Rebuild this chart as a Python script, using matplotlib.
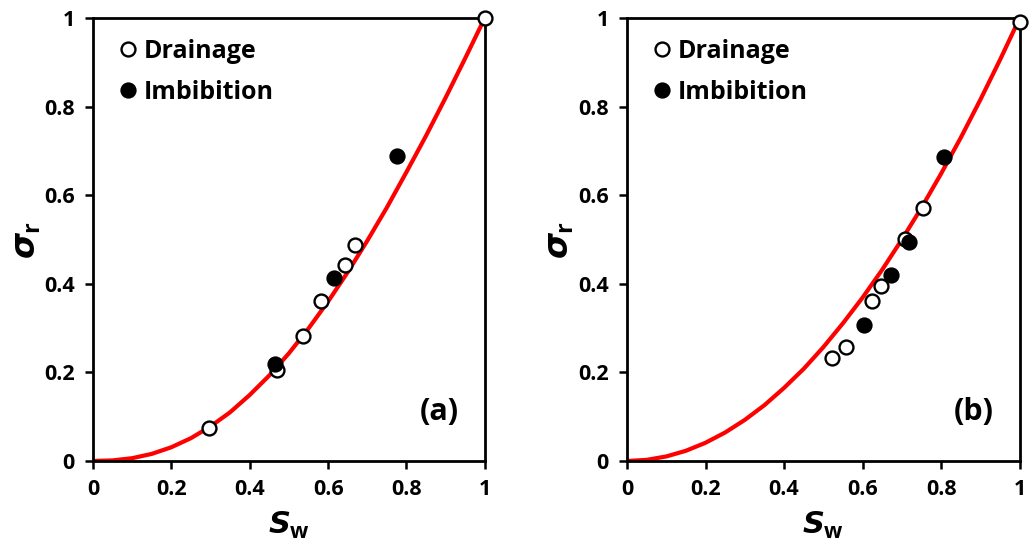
import numpy as np
import matplotlib
matplotlib.use("Agg")
import matplotlib.pyplot as plt

# panel (a) data
a_drain_sw = [0.295, 0.47, 0.535, 0.582, 0.644, 0.669, 1.0]
a_drain_sig = [0.074, 0.205, 0.281, 0.360, 0.443, 0.488, 1.0]
a_imb_sw = [0.464, 0.615, 0.777]
a_imb_sig = [0.220, 0.412, 0.688]

# panel (b) data
b_drain_sw = [0.523, 0.557, 0.625, 0.648, 0.707, 0.754, 1.0]
b_drain_sig = [0.233, 0.257, 0.360, 0.395, 0.500, 0.570, 0.992]
b_imb_sw = [0.604, 0.673, 0.718, 0.807]
b_imb_sig = [0.308, 0.419, 0.494, 0.686]

# fitted curves
curve_sw = [0.0, 0.05, 0.1, 0.15, 0.2, 0.25, 0.3, 0.35, 0.4, 0.45, 0.5,
            0.55, 0.6, 0.65, 0.7, 0.75, 0.8, 0.85, 0.9, 0.95, 1.0]
a_curve = [0.0, 0.0013, 0.0063, 0.016, 0.031, 0.0515, 0.078, 0.110, 0.149,
           0.193, 0.243, 0.299, 0.360, 0.426, 0.497, 0.572, 0.652, 0.734,
           0.820, 0.909, 1.0]
b_curve = [0.0, 0.0025, 0.0102, 0.023, 0.0411, 0.0643, 0.0927, 0.126, 0.165,
           0.208, 0.257, 0.311, 0.369, 0.432, 0.500, 0.572, 0.649, 0.730,
           0.816, 0.906, 1.0]

ticks = [0, 0.2, 0.4, 0.6, 0.8, 1]
tick_labels = ["0", "0.2", "0.4", "0.6", "0.8", "1"]

plt.rcParams['font.family'] = ['Open Sans', 'DejaVu Sans']
plt.rcParams['font.weight'] = 'bold'
plt.rcParams['mathtext.fontset'] = 'custom'
plt.rcParams['mathtext.it'] = 'DejaVu Sans:italic:bold'
plt.rcParams['mathtext.rm'] = 'Open Sans:bold'


def draw_panel(ax, curve, d_sw, d_sig, i_sw, i_sig, tag):
    ax.plot(curve_sw, curve, color='#ff0000', lw=3, zorder=2,
            solid_capstyle='round', solid_joinstyle='round')
    ax.plot(d_sw, d_sig, 'o', ms=10, mfc='white', mec='black', mew=1.7,
            label='Drainage', zorder=3, clip_on=False)
    ax.plot(i_sw, i_sig, 'o', ms=10, mfc='black', mec='black', mew=1.7,
            label='Imbibition', zorder=3, clip_on=False)
    ax.set_xlim(0, 1)
    ax.set_ylim(0, 1)
    ax.set_xticks(ticks)
    ax.set_xticklabels(tick_labels, fontweight='bold')
    ax.set_yticks(ticks)
    ax.set_yticklabels(tick_labels, fontweight='bold')
    ax.tick_params(direction='out', length=6, width=1.8, labelsize=15.5,
                   pad=7)
    for s in ax.spines.values():
        s.set_linewidth(2)
    ax.set_xlabel(r'$S_{\mathrm{w}}$', fontsize=22, labelpad=7)
    ax.set_ylabel(r'$\sigma_{\mathrm{r}}$', fontsize=24, labelpad=1)
    leg = ax.legend(loc='upper left', frameon=False, fontsize=18,
                    handlelength=0.6, handletextpad=0.35, labelspacing=0.62,
                    borderaxespad=0.45, bbox_to_anchor=(0.015, 1.0))
    for t in leg.get_texts():
        t.set_fontweight('bold')
    ax.text(0.935, 0.11, tag, transform=ax.transAxes, ha='right',
            va='center', fontsize=22, fontweight='bold')


fig = plt.figure(figsize=(10.31, 5.48), dpi=100)
ax1 = fig.add_axes([0.0902, 0.1588, 0.380, 0.8084])
ax2 = fig.add_axes([0.6081, 0.1588, 0.381, 0.8084])

draw_panel(ax1, a_curve, a_drain_sw, a_drain_sig, a_imb_sw, a_imb_sig, '(a)')
draw_panel(ax2, b_curve, b_drain_sw, b_drain_sig, b_imb_sw, b_imb_sig, '(b)')

fig.savefig('out.png', dpi=100)
